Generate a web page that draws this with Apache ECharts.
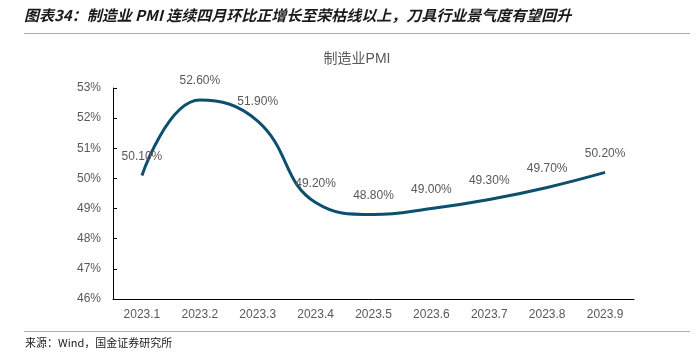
<!DOCTYPE html>
<html><head><meta charset="utf-8">
<script src="https://cdn.jsdelivr.net/npm/echarts@6/dist/echarts.min.js"></script>
<style>html,body{margin:0;padding:0;background:#fff}#c{width:696px;height:356px}</style>
</head><body><div id="c"></div>
<script>
const categories = ['2023.1','2023.2','2023.3','2023.4','2023.5','2023.6','2023.7','2023.8','2023.9'];
const pmi = [50.1, 52.6, 51.9, 49.2, 48.8, 49.0, 49.3, 49.7, 50.2];
const headerText = '图表34：制造业 PMI 连续四月环比正增长至荣枯线以上，刀具行业景气度有望回升';
const sourceText = '来源：Wind，国金证券研究所';
const chartTitle = '制造业PMI';

const chart = echarts.init(document.getElementById('c'));
chart.setOption({
  animation: false,
  title: { text: chartTitle, left: 352, top: 47, textAlign: 'center',
    textStyle: { fontFamily: 'Liberation Sans, Noto Sans CJK SC', fontSize: 14, fontWeight: 'normal', color: '#595959' } },
  grid: { left: 113, right: 62, top: 88, bottom: 57 },
  xAxis: { type: 'category', data: categories, boundaryGap: true,
    axisLine: { lineStyle: { color: '#000', width: 1 } },
    axisTick: { inside: true, length: 4, lineStyle: { color: '#000' } },
    axisLabel: { color: '#595959', fontSize: 12, fontFamily: 'Liberation Sans', margin: 10 } },
  yAxis: { type: 'value', min: 46, max: 53, interval: 1, splitLine: { show: false },
    axisLine: { show: true, lineStyle: { color: '#000', width: 1 } },
    axisTick: { show: true, inside: true, length: 4, lineStyle: { color: '#000' } },
    axisLabel: { color: '#595959', fontSize: 12, fontFamily: 'Liberation Sans', formatter: v => v + '%', margin: 12 } },
  series: [{ type: 'line', data: pmi, smooth: 0.45, symbol: 'circle', symbolSize: 2, showSymbol: true,
    itemStyle: { color: 'rgba(0,0,0,0)', borderWidth: 0 },
    lineStyle: { color: '#0d4f6e', width: 3 },
    label: { show: true, position: 'top', distance: 12, color: '#595959', fontSize: 12, fontFamily: 'Liberation Sans',
      formatter: p => p.value.toFixed(2) + '%' } }],
  graphic: [
    { type: 'text', left: 24, top: 8, style: { text: headerText, fontFamily: 'Noto Sans CJK SC', fontSize: 15, fontWeight: 'bold', fontStyle: 'italic', fill: '#1a1a1a' } },
    { type: 'line', shape: { x1: 24, y1: 33.5, x2: 690, y2: 33.5 }, style: { stroke: '#9fb3c6', lineWidth: 1 } },
    { type: 'line', shape: { x1: 24, y1: 331.5, x2: 690, y2: 331.5 }, style: { stroke: '#9fb3c6', lineWidth: 1 } },
    { type: 'text', left: 25, top: 337, style: { text: sourceText, fontFamily: 'Noto Sans CJK SC', fontSize: 11, fill: '#1a1a1a' } }
  ]
});
</script></body></html>
